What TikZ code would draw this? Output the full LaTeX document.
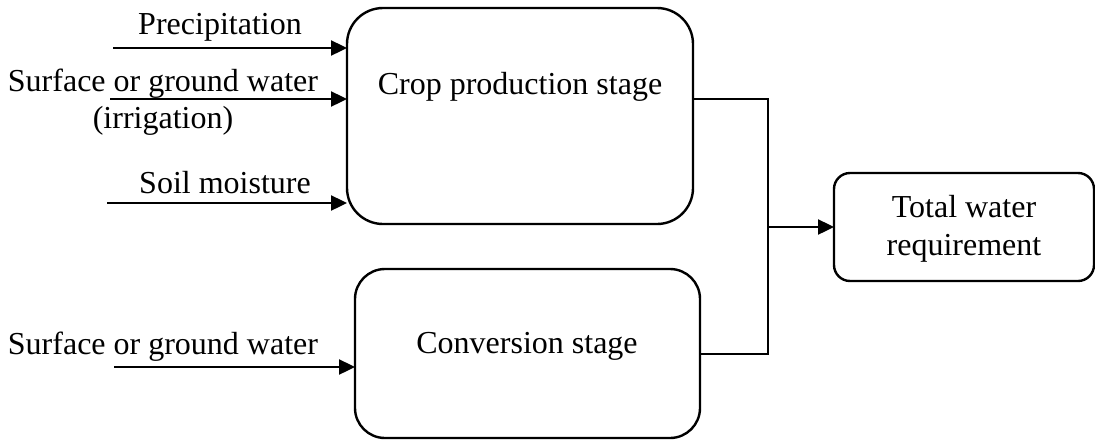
\documentclass[tikz,border=0pt]{standalone}
\usepackage{fontspec}
\setmainfont{Liberation Serif}
\usetikzlibrary{arrows.meta}
\begin{document}
\begin{tikzpicture}[x=1pt,y=-1pt,
  box/.style={draw,line width=2.4pt,rounded corners=#1,inner sep=0pt,outer sep=0pt},
  lbl/.style={anchor=base,inner sep=0pt,font=\fontsize{32}{38}\selectfont},
  conn/.style={line width=2.4pt},
  arr/.style={line width=2.4pt,-{Triangle[length=16pt,width=15pt]}}]
\useasboundingbox (0,0) rectangle (1095,445);
% boxes
\node[box=36pt,minimum width=346pt,minimum height=216pt] (crop) at (520,116) {};
\node[box=30pt,minimum width=345pt,minimum height=169pt] (conv) at (527.5,353.5) {};
\node[box=16pt,minimum width=260pt,minimum height=108pt] (total) at (964,227) {};
% box texts
\node[lbl] (cropt) at (520,94) {Crop production stage};
\node[lbl] (convt) at (527,353) {Conversion stage};
\node[lbl] (tot1) at (964,217) {Total water};
\node[lbl] (tot2) at (964,255) {requirement};
% input labels
\node[lbl] (lp) at (220,34) {Precipitation};
\node[lbl] (ls1) at (163,91) {Surface or ground water};
\node[lbl] (li) at (163,128) {(irrigation)};
\node[lbl] (lsm) at (225,193) {Soil moisture};
\node[lbl] (ls2) at (163,354) {Surface or ground water};
% arrow start points
\coordinate (a1) at (113,48);
\coordinate (a2) at (110,99);
\coordinate (a3) at (107,203);
\coordinate (a4) at (114,367);
\draw[arr] (a1) -- (crop.west |- a1);
\draw[arr] (a2) -- (crop.west |- a2);
\draw[arr] (a3) -- (crop.west |- a3);
\draw[arr] (a4) -- (conv.west |- a4);
% outputs
\coordinate (j1) at (768,99);
\coordinate (j2) at (768,354);
\coordinate (jm) at (768,227);
\draw[conn] (crop.east |- j1) -- (j1) -- (j2) -- (conv.east |- j2);
\draw[arr] (jm) -- (total.west |- jm);
\end{tikzpicture}
\end{document}
